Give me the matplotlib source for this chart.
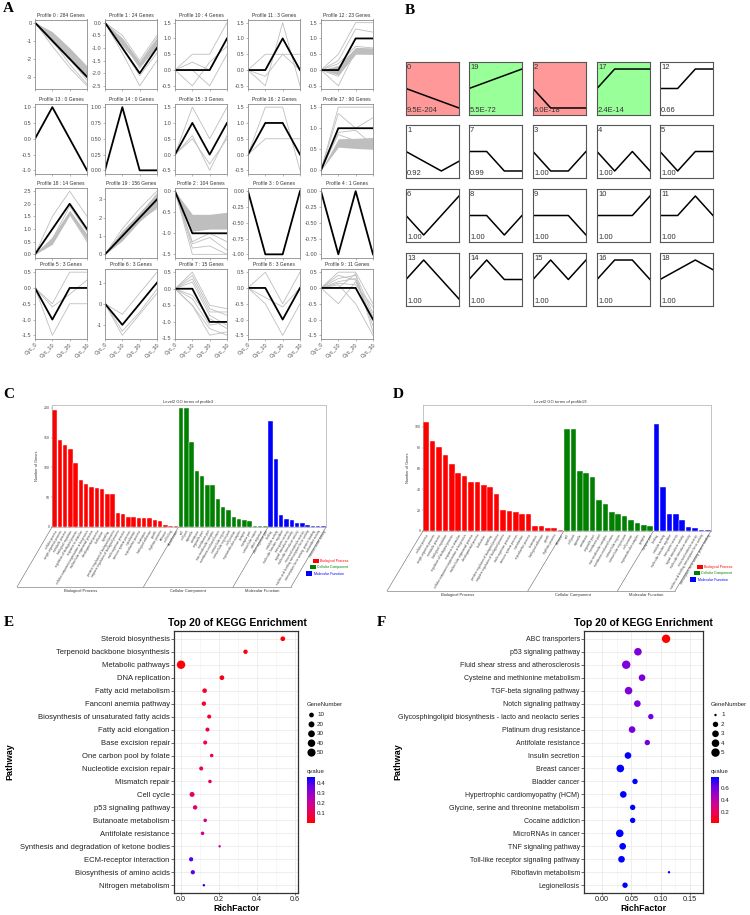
import numpy as np
import matplotlib.pyplot as plt
from matplotlib.colors import LinearSegmentedColormap, Normalize
from matplotlib.cm import ScalarMappable
from matplotlib.patches import Rectangle

plt.rcParams['font.family'] = ['Liberation Sans', 'DejaVu Sans']

# ---------------- data ----------------
cycles = ['Cyc_0', 'Cyc_10', 'Cyc_20', 'Cyc_30']

# panel A: STEM profiles in grid order
a_ids = [0, 1, 10, 11, 12, 13, 14, 15, 16, 17, 18, 19, 2, 3, 4, 5, 6, 7, 8, 9]
a_genes = [284, 24, 4, 3, 23, 0, 0, 3, 2, 90, 14, 156, 104, 0, 1, 3, 3, 15, 3, 11]
a_models = [[0, -1, -2, -3], [0, -1, -2, -1], [0, 0, 0, 1], [0, 0, 1, 0], [0, 0, 1, 1],
            [0, 1, 0, -1], [0, 1, 0, 0], [0, 1, 0, 1], [0, 1, 1, 0], [0, 1, 1, 1],
            [0, 1, 2, 1], [0, 1, 2, 3], [0, -1, -1, -1], [0, -1, -1, 0], [0, -1, 0, -1],
            [0, -1, 0, 0], [0, -1, 0, 1], [0, 0, -1, -1], [0, 0, -1, 0], [0, 0, 0, -1]]
a_yticks = [[0, -1, -2, -3], [0, -0.5, -1, -1.5, -2, -2.5], [-0.5, 0, 0.5, 1, 1.5],
            [-0.5, 0, 0.5, 1, 1.5], [-0.5, 0, 0.5, 1, 1.5], [-1, -0.5, 0, 0.5, 1],
            [0, 0.25, 0.5, 0.75, 1], [-0.5, 0, 0.5, 1, 1.5], [-0.5, 0, 0.5, 1, 1.5],
            [0, 0.5, 1, 1.5], [0, 0.5, 1, 1.5, 2, 2.5], [0, 1, 2, 3], [0, -0.5, -1, -1.5],
            [0, -0.25, -0.5, -0.75, -1], [0, -0.25, -0.5, -0.75, -1], [0.5, 0, -0.5, -1, -1.5],
            [-1, 0, 1], [0.5, 0, -0.5, -1, -1.5], [0.5, 0, -0.5, -1, -1.5], [0.5, 0, -0.5, -1, -1.5]]
a_dec = [0, 1, 1, 1, 1, 1, 2, 1, 1, 1, 1, 0, 1, 2, 2, 1, 0, 1, 1, 1]
a_gray = [
    [[0, -1.3, -2.5, -3.5], [0, -1.0, -2.3, -3.4], [0, -0.6, -1.6, -2.6], [0, -1.1, -2.0, -3.2]],
    [[0, -0.5, -1.5, -0.5], [0, -1.2, -2.5, -1.5], [0, -1.0, -2.1, -1.2], [0, -0.7, -1.8, -0.9], [0, -0.9, -1.6, -0.6]],
    [[0, 0.5, 0.5, 1.5], [0, 0.25, 0.0, 1.0], [0, -0.5, 0.25, 0.75], [0, 0.0, -0.5, 0.5]],
    [[0, 0.5, 0.5, 0.5], [0, -0.5, 1.5, -0.5], [0, -0.2, 0.5, 0.0]],
    [[0, 0.5, 1.5, 1.5], [0, 0.3, 1.3, 1.2], [0, -0.5, 0.6, 0.6], [0, 0.2, 0.75, 0.7], [0, -0.2, 0.55, 0.5]],
    [],
    [],
    [[0, 1.5, 0.5, 1.5], [0, 0.6, -0.5, 0.6], [0, 0.5, -0.3, 0.5]],
    [[0, 1.5, 1.5, -0.5], [0, 0.5, 0.5, 0.5]],
    [[0, 1.5, 1.5, 1.5], [0, 1.35, 1.0, 1.25], [0, 0.85, 0.7, 0.75], [0, 0.9, 0.95, 0.6]],
    [[0, 1.5, 2.5, 1.5], [0, 0.5, 1.6, 0.5], [0, 0.6, 1.9, 0.9]],
    [[0, 1.4, 2.5, 3.45], [0, 0.9, 1.9, 2.5], [0, 1.2, 2.1, 3.3]],
    [[0, -1.35, -1.3, -1.5], [0, -1.25, -1.1, -1.4], [0, -1.5, -1.5, -1.5], [0, -1.2, -1.0, -1.2]],
    [],
    [],
    [[0, -0.5, 0.5, 0.5], [0, -1.5, -0.5, -0.5], [0, -0.6, -0.2, 0.25]],
    [[0, -0.5, 0.5, 1.5], [0, -1.5, -0.5, 0.5], [0, -1.3, -0.4, 0.7]],
    [[0, 0.5, -0.5, -0.6], [0, 0.3, -0.7, -0.7], [0, -0.5, -1.2, -1.4], [0, -0.3, -1.1, -1.0],
     [0, -0.5, -1.4, -1.3], [0, 0.4, -0.6, -0.8], [0, -0.2, -0.9, -1.2], [0, 0.2, -0.8, -1.1]],
    [[0, 0.5, -0.5, 0.5], [0, -0.5, -1.5, -0.5], [0, -0.3, -0.6, 0.0]],
    [[0, 0.5, 0.5, -0.5], [0, 0.3, 0.4, -0.8], [0, -0.5, 0.2, -1.0], [0, 0.1, -0.5, -1.5],
     [0, 0.2, 0.3, -1.2], [0, 0.4, 0.25, -0.9], [0, 0.0, 0.45, -1.4], [0, 0.15, 0.1, -0.6]],
]
# dense bundles of gene lines (upper, lower envelope)
a_bands = {
    0: ([0, -0.5, -1.4, -2.4], [0, -1.1, -2.1, -3.1]),
    1: ([0, -0.6, -1.55, -0.6], [0, -0.9, -1.75, -0.95]),
    12: ([0, 0.15, 0.72, 0.7], [0, -0.15, 0.5, 0.5]),
    17: ([0, 0.75, 0.76, 0.78], [0, 0.55, 0.52, 0.5]),
    18: ([0, 0.7, 1.75, 0.8], [0, 0.4, 1.55, 0.55]),
    19: ([0, 1.3, 2.3, 3.35], [0, 0.75, 1.8, 2.6]),
    2: ([0, -0.55, -0.55, -0.5], [0, -0.95, -0.9, -0.9]),
}

# panel B: profile overview ordered by significance
b_ids = [0, 19, 2, 17, 12, 1, 7, 3, 4, 5, 6, 8, 9, 10, 11, 13, 14, 15, 16, 18]
b_pvals = ['9.5E-204', '5.5E-72', '6.0E-18', '2.4E-14', '0.66', '0.92', '0.99'] + ['1.00'] * 13
b_colors = ['#FF9999', '#99FF99', '#FF9999', '#99FF99'] + ['white'] * 16

# panels C / D: level-2 GO terms
bp_terms = ['cellular process', 'single-organism process', 'metabolic process', 'biological regulation',
            'regulation of biological process', 'response to stimulus',
            'cellular component organization or biogenesis', 'multicellular organismal process',
            'developmental process', 'localization', 'signaling',
            'positive regulation of biological process', 'negative regulation of biological process',
            'multi-organism process', 'immune system process', 'reproduction', 'reproductive process',
            'locomotion', 'biological adhesion', 'growth', 'rhythmic process', 'behavior',
            'cell killing', 'detoxification']
cc_terms = ['cell', 'cell part', 'organelle', 'membrane', 'organelle part', 'membrane part',
            'macromolecular complex', 'membrane-enclosed lumen', 'extracellular region',
            'extracellular region part', 'cell junction', 'supramolecular complex', 'synapse',
            'synapse part', 'extracellular matrix', 'other organism', 'other organism part']
mf_terms = ['binding', 'catalytic activity', 'molecular function regulator', 'transporter activity',
            'signal transducer activity', 'molecular transducer activity', 'structural molecule activity',
            'nucleic acid binding transcription factor activity',
            'transcription factor activity, protein binding', 'antioxidant activity',
            'electron carrier activity']
c_bp = [197, 147, 138, 131, 108, 79, 73, 67, 65, 64, 56, 56, 23, 22, 17, 16, 15, 15, 15, 11, 10, 3, 2, 2]
c_cc = [200, 200, 142, 94, 85, 71, 71, 47, 33, 28, 17, 13, 11, 10, 1, 1, 1]
c_mf = [178, 114, 21, 13, 11, 6, 6, 3, 1, 1, 1]
d_bp = [105, 86, 81, 73, 64, 56, 53, 47, 47, 44, 42, 36, 20, 19, 18, 16, 16, 5, 5, 3, 3, 1]
d_cc = [98, 98, 58, 56, 52, 30, 26, 18, 16, 14, 11, 8, 6, 5]
d_mf = [103, 42, 16, 16, 11, 4, 3, 1, 1]

# panel E: KEGG enrichment profile 3
e_path = ['Steroid biosynthesis', 'Terpenoid backbone biosynthesis', 'Metabolic pathways', 'DNA replication',
          'Fatty acid metabolism', 'Fanconi anemia pathway', 'Biosynthesis of unsaturated fatty acids',
          'Fatty acid elongation', 'Base excision repair', 'One carbon pool by folate',
          'Nucleotide excision repair', 'Mismatch repair', 'Cell cycle', 'p53 signaling pathway',
          'Butanoate metabolism', 'Antifolate resistance', 'Synthesis and degradation of ketone bodies',
          'ECM-receptor interaction', 'Biosynthesis of amino acids', 'Nitrogen metabolism']
e_rich = [0.535, 0.339, 0.0, 0.215, 0.124, 0.12, 0.148, 0.139, 0.127, 0.161,
          0.106, 0.152, 0.058, 0.074, 0.127, 0.113, 0.203, 0.053, 0.062, 0.12]
e_genes = [10, 8, 55, 10, 9, 8, 6, 6, 6, 4, 6, 4, 12, 8, 4, 4, 2, 7, 7, 2]
e_q = [0.0, 0.01, 0.01, 0.03, 0.05, 0.05, 0.06, 0.07, 0.08, 0.1,
       0.1, 0.12, 0.13, 0.13, 0.18, 0.18, 0.2, 0.38, 0.38, 0.46]

# panel F: KEGG enrichment profile 19
f_path = ['ABC transporters', 'p53 signaling pathway', 'Fluid shear stress and atherosclerosis',
          'Cysteine and methionine metabolism', 'TGF-beta signaling pathway', 'Notch signaling pathway',
          'Glycosphingolipid biosynthesis - lacto and neolacto series', 'Platinum drug resistance',
          'Antifolate resistance', 'Insulin secretion', 'Breast cancer', 'Bladder cancer',
          'Hypertrophic cardiomyopathy (HCM)', 'Glycine, serine and threonine metabolism',
          'Cocaine addiction', 'MicroRNAs in cancer', 'TNF signaling pathway',
          'Toll-like receptor signaling pathway', 'Riboflavin metabolism', 'Legionellosis']
f_rich = [0.109, 0.061, 0.041, 0.068, 0.045, 0.060, 0.083, 0.051, 0.077, 0.044,
          0.031, 0.056, 0.036, 0.052, 0.052, 0.030, 0.035, 0.033, 0.114, 0.039]
f_genes = [5, 4, 5, 3, 4, 3, 2, 3, 2, 3, 4, 2, 3, 2, 2, 4, 3, 3, 1, 2]
f_q = [0.017, 0.56, 0.57, 0.58, 0.57, 0.58, 0.6, 0.6, 0.6, 0.78,
       0.78, 0.78, 0.78, 0.78, 0.78, 0.78, 0.78, 0.78, 0.78, 0.78]

# ---------------- figure ----------------
W, H = 750, 915
fig = plt.figure(figsize=(W / 100, H / 100), dpi=100)


def box(x0, y0, x1, y1):
    # axes from pixel coordinates (origin top-left)
    return fig.add_axes([x0 / W, 1 - y1 / H, (x1 - x0) / W, (y1 - y0) / H])


ov = box(0, 0, W, H)
ov.set_xlim(0, W)
ov.set_ylim(H, 0)
ov.axis('off')

for lab, x, y in [('A', 8, 9), ('B', 410, 10), ('C', 9, 394), ('D', 398, 394), ('E', 9, 623), ('F', 381, 623)]:
    ov.text(x, y, lab, fontsize=11, fontweight='bold', family='Liberation Serif', ha='center', va='center')

# ---- A ----
a_left = [35, 105, 175, 248, 321]
a_top = [19.5, 104, 188, 269]
for k, pid in enumerate(a_ids):
    r, c = divmod(k, 5)
    ax = box(a_left[c], a_top[r], a_left[c] + 52, a_top[r] + 69.5)
    if pid in a_bands:
        hi, lo = a_bands[pid]
        ax.fill_between(range(4), lo, hi, color='#BEBEBE', lw=0)
    for g in a_gray[k]:
        ax.plot(range(4), g, color='#BEBEBE', lw=0.6)
    ax.plot(range(4), a_models[k], color='black', lw=1.3)
    ax.set_xlim(0, 3)
    ax.margins(y=0.05)
    ax.set_yticks(a_yticks[k])
    ax.set_yticklabels([f'{v:.{a_dec[k]}f}' for v in a_yticks[k]])
    ax.set_xticks(range(4))
    if r == 3:
        ax.set_xticklabels(cycles, rotation=45, ha='right', rotation_mode='anchor')
    else:
        ax.set_xticklabels([])
    ax.tick_params(labelsize=4, length=1.5, width=0.4, pad=1, color='#7F7F7F', labelcolor='#4D4D4D')
    for s in ax.spines.values():
        s.set_color('#8C8C8C')
        s.set_linewidth(0.6)
    ax.set_title(f'Profile {pid} : {a_genes[k]} Genes', fontsize=3.6, pad=2, color='#333333')

# ---- B ----
b_left = [406, 469, 533, 597, 660]
b_top = [62, 125, 189, 253]
for k, pid in enumerate(b_ids):
    r, c = divmod(k, 5)
    ax = box(b_left[c], b_top[r], b_left[c] + 53, b_top[r] + 53)
    m = np.array(a_models[a_ids.index(pid)], float)
    ax.plot(range(4), m / np.abs(m).max(), color='black', lw=1.1)
    ax.set_xlim(0, 3)
    ax.set_ylim(-1.36, 1.36)
    ax.set_facecolor(b_colors[k])
    ax.set_xticks([])
    ax.set_yticks([])
    for s in ax.spines.values():
        s.set_color('#555555')
        s.set_linewidth(0.8)
    ax.text(0.02, 0.97, str(pid), transform=ax.transAxes, ha='left', va='top', fontsize=5.5, color='#333333')
    ax.text(0.02, 0.02, b_pvals[k], transform=ax.transAxes, ha='left', va='bottom', fontsize=5.5,
            color='#333333')


# ---- C / D ----
def go_panel(x0, y0, x1, y1, title, title_x, bp, cc, mf, ymax, yticks, dx, leg):
    counts = bp + cc + mf
    names = bp_terms[:len(bp)] + cc_terms[:len(cc)] + mf_terms[:len(mf)]
    cols = ['#FF0000'] * len(bp) + ['#008000'] * len(cc) + ['#0000FF'] * len(mf)
    n = len(counts)
    ax = box(x0, y0, x1, y1)
    ax.bar(np.arange(n), counts, width=0.85, color=cols, edgecolor='white', linewidth=0.3)
    ax.set_xlim(-0.5, n - 0.5)
    ax.set_ylim(0, ymax)
    ax.set_yticks(yticks)
    ax.set_xticks(np.arange(n))
    ax.set_xticklabels(names, rotation=60, ha='right', rotation_mode='anchor', fontsize=2.2, color='#444444')
    ax.tick_params(axis='y', labelsize=2.5, length=1, width=0.3, pad=0.8, colors='#444444')
    ax.tick_params(axis='x', length=1, width=0.3, pad=0.8, colors='#444444')
    for s in ax.spines.values():
        s.set_color('#999999')
        s.set_linewidth(0.4)
    ax.set_ylabel('Number of Genes', fontsize=2.8, labelpad=3, color='#333333')
    ov.text(title_x, 402, title, fontsize=3, ha='center', va='center', color='#333333')
    # slanted frame holding the term labels
    bounds = [0, len(bp), len(bp) + len(cc), n]
    px = [x0 + b / n * (x1 - x0) for b in bounds]
    for p in px:
        ov.plot([p, p - dx], [y1, y1 + 60], color='#666666', lw=0.4)
    ov.plot([px[0] - dx, px[-1] - dx], [y1 + 60, y1 + 60], color='#666666', lw=0.4)
    for gname, a, b in zip(['Biological Process', 'Cellular Component', 'Molecular Function'], px[:-1], px[1:]):
        ov.text((a + b) / 2 - dx, y1 + 64, gname, fontsize=3, ha='center', va='center', color='#333333')
    lx, ly = leg
    for i, (gname, col) in enumerate(zip(['Biological Process', 'Cellular Component', 'Molecular Function'],
                                         ['#FF0000', '#008000', '#0000FF'])):
        bx, by = lx - 3.5 * i, ly + 6.3 * i
        ov.add_patch(Rectangle((bx, by - 2.2), 6.3, 4.4, color=col, lw=0))
        ov.text(bx + 7.5, by, gname, fontsize=2.5, color=col, va='center', ha='left')


go_panel(52, 405, 326, 527, 'Level2 GO terms of profile3', 188, c_bp, c_cc, c_mf,
         205, [0, 50, 100, 150, 200], 35, (313, 561))
go_panel(423, 405, 711, 531, 'Level2 GO terms of profile19', 560, d_bp, d_cc, d_mf,
         121, [0, 20, 40, 60, 80, 100], 36, (697, 567))

# ---- E / F ----
qcmap = LinearSegmentedColormap.from_list('q', ['#FF0000', '#F0004E', '#D2008A', '#A000C5', '#6A00E6', '#0000FF'])


def diam(g, gmin, gmax):
    return 2.4 + 6.0 * np.sqrt((np.asarray(g, float) - gmin) / (gmax - gmin))


def kegg_panel(x0, x1, names, rich, genes, qv, xlim, xticks, xfmt, minor, qlim, cb_x, cb_ticks,
               leg_vals, title_x, path_x, fs):
    ax = box(x0, 631, x1, 893)
    n = len(names)
    ys = np.arange(n)[::-1]
    gmin, gmax = min(genes), max(genes)
    norm = Normalize(*qlim)
    ax.scatter(rich, ys, s=(diam(genes, gmin, gmax) * 0.72) ** 2, c=qv, cmap=qcmap, norm=norm,
               edgecolors='none', zorder=3)
    ax.set_xlim(*xlim)
    ax.set_ylim(-0.6, n - 0.4)
    ax.set_yticks(ys)
    ax.set_yticklabels(names)
    ax.set_xticks(xticks)
    ax.set_xticklabels([xfmt.format(v) for v in xticks])
    ax.set_xticks(minor, minor=True)
    ax.grid(True, which='major', color='#EBEBEB', lw=0.6)
    ax.grid(True, which='minor', axis='x', color='#F2F2F2', lw=0.4)
    ax.set_axisbelow(True)
    ax.tick_params(axis='y', which='major', labelsize=fs, length=2, width=0.5, pad=1, color='#333333',
                   labelcolor='#222222')
    ax.tick_params(axis='x', which='major', labelsize=5.2, length=1.5, width=0.5, pad=0.8, color='#333333',
                   labelcolor='#222222')
    ax.tick_params(which='minor', length=0)
    for s in ax.spines.values():
        s.set_color('#333333')
        s.set_linewidth(0.9)
    ov.text(title_x, 623, 'Top 20 of KEGG Enrichment', fontsize=7.5, fontweight='bold', ha='center', va='center')
    ov.text((x0 + x1) / 2, 908.5, 'RichFactor', fontsize=6.3, fontweight='bold', ha='center', va='center')
    ov.text(path_x, 762, 'Pathway', fontsize=6.5, fontweight='bold', ha='center', va='center', rotation=90)
    # size legend
    ov.text(cb_x, 704, 'GeneNumber', fontsize=4.3, ha='left', va='center', color='#222222')
    for i, v in enumerate(leg_vals):
        yy = 715 + 9.4 * i
        ov.scatter([cb_x + 4.5], [yy], s=(diam(v, gmin, gmax) * 0.72) ** 2, color='black', edgecolors='none')
        ov.text(cb_x + 10, yy, str(v), fontsize=4.5, ha='left', va='center', color='#222222')
    # colour legend
    ov.text(cb_x, 772, 'qvalue', fontsize=4.3, ha='left', va='center', color='#222222')
    cax = box(cb_x, 777, cb_x + 8, 823)
    cb = fig.colorbar(ScalarMappable(norm=norm, cmap=qcmap), cax=cax)
    cb.outline.set_visible(False)
    cb.set_ticks(cb_ticks)
    cb.set_ticklabels([f'{t:.1f}' for t in cb_ticks])
    cax.tick_params(length=0, labelsize=4.5, pad=1.5, labelcolor='#222222')


kegg_panel(174, 298, e_path, e_rich, e_genes, e_q, (-0.037, 0.615), [0.0, 0.2, 0.4, 0.6], '{:.1f}',
           [0.1, 0.3, 0.5], (0.0, 0.46), 307, [0.1, 0.2, 0.3, 0.4], [10, 20, 30, 40, 50], 237, 10, 5.5)
kegg_panel(584, 703, f_path, f_rich, f_genes, f_q, (-0.031, 0.172), [0.0, 0.05, 0.10, 0.15], '{:.2f}',
           [0.025, 0.075, 0.125], (0.017, 0.78), 711, [0.2, 0.4, 0.6], [1, 2, 3, 4, 5], 643, 398, 5.0)

fig.savefig('out.png', dpi=100)
